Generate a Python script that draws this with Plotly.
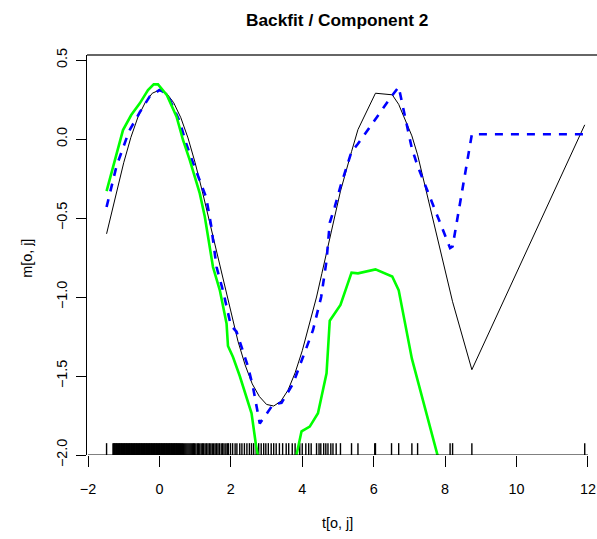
import plotly.graph_objects as go

# ---------------- data ----------------
black_x = [-1.48, -1.2, -1.0, -0.8, -0.6, -0.4, -0.2, 0.0, 0.2, 0.4, 0.6, 0.8, 1.0, 1.2,
           1.4, 1.6, 1.8, 2.0, 2.2, 2.4, 2.6, 2.8, 3.0, 3.2, 3.4, 3.6, 3.8, 4.0, 4.25,
           4.4, 4.55, 4.7, 4.85, 5.07, 5.38, 5.56, 6.05, 6.52, 6.70, 7.07, 7.23, 8.14,
           8.21, 8.75, 11.91]
black_y = [-0.60, -0.33, -0.15, 0.01, 0.14, 0.23, 0.29, 0.31, 0.29, 0.23, 0.135, 0.007,
           -0.15, -0.33, -0.52, -0.72, -0.92, -1.11, -1.28, -1.43, -1.55, -1.63, -1.68,
           -1.69, -1.66, -1.59, -1.48, -1.34, -1.13, -1.00, -0.85, -0.70, -0.55, -0.33,
           -0.08, 0.06, 0.29, 0.28, 0.22, 0.02, -0.10, -0.98, -1.03, -1.46, 0.09]

blue_x = [-1.48, -1.2, -0.85, -0.55, -0.27, 0.0, 0.1, 0.29, 0.57, 0.75, 0.94, 1.13, 1.31,
          1.45, 1.6, 1.78, 2.0, 2.16, 2.34, 2.48, 2.62, 2.81, 3.0, 3.18, 3.42, 3.74, 4.02,
          4.30, 4.53, 4.68, 4.77, 4.91, 5.07, 5.38, 5.56, 6.05, 6.50, 6.70, 7.07, 7.23,
          8.14, 8.21, 8.75, 11.91]
blue_y = [-0.43, -0.17, 0.05, 0.17, 0.27, 0.31, 0.30, 0.25, 0.11, -0.03, -0.15, -0.26,
          -0.37, -0.55, -0.81, -0.96, -1.18, -1.22, -1.34, -1.44, -1.57, -1.80, -1.74,
          -1.68, -1.67, -1.55, -1.38, -1.21, -1.00, -0.77, -0.53, -0.43, -0.30, -0.08,
          -0.03, 0.13, 0.27, 0.33, -0.06, -0.17, -0.69, -0.68, 0.03, 0.03]

green_x = [-1.48, -1.30, -1.02, -0.79, -0.55, -0.32, -0.16, -0.04, 0.21, 0.48, 0.66,
           0.85, 1.13, 1.27, 1.40, 1.50, 1.69, 1.88, 1.92, 2.06, 2.25, 2.44, 2.58, 2.70,
           2.85, 3.10, 3.40, 3.65, 3.84, 3.98, 4.21, 4.44, 4.68, 4.77, 5.07, 5.38, 5.56,
           6.05, 6.52, 6.70, 7.07, 7.23, 8.14, 8.21]
green_y = [-0.33, -0.175, 0.057, 0.152, 0.226, 0.31, 0.346, 0.346, 0.278, 0.141, -0.006,
           -0.133, -0.344, -0.49, -0.66, -0.81, -0.956, -1.167, -1.31, -1.38, -1.50,
           -1.63, -1.736, -1.93, -2.12, -2.30, -2.35, -2.20, -2.0, -1.85, -1.82, -1.736,
           -1.483, -1.15, -1.05, -0.846, -0.85, -0.825, -0.87, -0.956, -1.39, -1.53,
           -2.30, -2.36]

rug_x = [-1.48,
         -1.30, -1.28, -1.26, -1.24, -1.22, -1.20, -1.18, -1.16, -1.14, -1.12, -1.10,
         -1.08, -1.06, -1.04, -1.02, -1.00, -0.98, -0.96, -0.94, -0.92, -0.90, -0.88,
         -0.86, -0.84, -0.82, -0.80, -0.78, -0.76, -0.74, -0.72, -0.70, -0.68, -0.66,
         -0.64, -0.62, -0.60, -0.58, -0.56, -0.54, -0.52, -0.50, -0.48, -0.46, -0.44,
         -0.42, -0.40, -0.38, -0.36, -0.34, -0.32, -0.30, -0.28, -0.26, -0.24, -0.22,
         -0.20, -0.18, -0.16, -0.14, -0.12, -0.10, -0.08, -0.06, -0.04, -0.02, 0.00,
         0.02, 0.04, 0.06, 0.08, 0.10, 0.12, 0.14, 0.16, 0.18, 0.20, 0.22, 0.24, 0.26,
         0.28, 0.30, 0.32, 0.34, 0.36, 0.38, 0.40, 0.42, 0.44, 0.46, 0.48, 0.50, 0.52,
         0.54, 0.56,
         0.59, 0.62, 0.65, 0.68, 0.71, 0.74, 0.77, 0.80, 0.83, 0.86, 0.89, 0.92, 0.95,
         0.98, 1.02, 1.06, 1.09, 1.13, 1.17, 1.21, 1.24, 1.28, 1.32, 1.36, 1.40, 1.44,
         1.48, 1.52, 1.56, 1.60, 1.64, 1.68, 1.73, 1.77, 1.81, 1.86, 1.90,
         1.93, 1.99, 2.05, 2.12, 2.17, 2.25, 2.31, 2.38, 2.45, 2.52, 2.58, 2.64, 2.71,
         2.78, 2.85, 2.92, 2.98, 3.05, 3.13, 3.20, 3.27, 3.36, 3.45, 3.55, 3.62, 3.72,
         3.80, 3.93, 4.00, 4.10, 4.18, 4.25,
         4.40, 4.47, 4.52, 4.60, 4.66, 4.72, 4.80, 4.86, 4.95, 5.07, 5.38, 5.56, 6.03,
         6.05, 6.50, 6.70, 7.07, 7.23, 8.14, 8.21, 8.75, 11.91]

x_ticks = [-2, 0, 2, 4, 6, 8, 10, 12]
x_tick_labels = ["\u22122", "0", "2", "4", "6", "8", "10", "12"]
y_ticks = [-2.0, -1.5, -1.0, -0.5, 0.0, 0.5]
y_tick_labels = ["\u22122.0", "\u22121.5", "\u22121.0", "\u22120.5", "0.0", "0.5"]

title_text = "Backfit / Component 2"
x_title = "t[o, j]"
y_title = "m[o, j]"

# ---------------- figure ----------------
FONT = "Liberation Sans, Arial, Helvetica, sans-serif"
Y_LO, Y_HI = -2.0, 0.532
X_LO, X_HI = -2.028, 12.254
rug_len = 0.075

rx, ry = [], []
for v in rug_x:
    rx += [v, v, None]
    ry += [Y_LO, Y_LO + rug_len, None]

fig = go.Figure()
fig.add_trace(go.Scatter(x=rx, y=ry, mode="lines",
                         line=dict(color="black", width=1.4, simplify=False),
                         hoverinfo="skip"))
fig.add_trace(go.Scatter(x=black_x, y=black_y, mode="lines",
                         line=dict(color="black", width=1)))
fig.add_trace(go.Scatter(x=blue_x, y=blue_y, mode="lines",
                         line=dict(color="#0000ff", width=2.6, dash="8px,8px")))
fig.add_trace(go.Scatter(x=green_x, y=green_y, mode="lines",
                         line=dict(color="#00ff00", width=2.6)))

fig.update_layout(
    width=597, height=539,
    margin=dict(l=87, r=0, t=55, b=84),
    paper_bgcolor="white", plot_bgcolor="white",
    showlegend=False,
    font=dict(family=FONT, size=14.4, color="black"),
    xaxis=dict(range=[X_LO, X_HI], tickvals=x_ticks, ticktext=x_tick_labels,
               ticks="outside", ticklen=11, tickwidth=1, tickcolor="black",
               showgrid=False, zeroline=False, showline=False,
               ticklabelstandoff=10, tickfont=dict(size=14.4)),
    yaxis=dict(range=[Y_LO, Y_HI], tickvals=y_ticks, ticktext=y_tick_labels,
               ticks="outside", ticklen=10, tickwidth=1, tickcolor="black",
               showgrid=False, zeroline=False, showline=True, linecolor="black",
               linewidth=1, tickangle=-90, ticklabelstandoff=3,
               tickfont=dict(size=14.4)),
)

# axis line along the bottom (from first to last tick) and grey top frame line
fig.add_shape(type="line", xref="x", yref="y", x0=x_ticks[0], x1=x_ticks[-1],
              y0=Y_LO, y1=Y_LO, line=dict(color="black", width=1))
fig.add_shape(type="line", xref="paper", yref="paper", x0=0, x1=1, y0=1, y1=1,
              line=dict(color="#666666", width=2))

fig.add_annotation(text="<b>" + title_text + "</b>", xref="paper", yref="paper",
                   x=0.49, y=1.0875, showarrow=False, xanchor="center",
                   yanchor="middle", font=dict(size=17.3, family=FONT))
fig.add_annotation(text=x_title, xref="paper", yref="paper", x=0.492, y=-0.170,
                   showarrow=False, xanchor="center", yanchor="middle",
                   font=dict(size=14.4, family=FONT))
fig.add_annotation(text=y_title, xref="paper", yref="paper", x=-0.118, y=0.4925,
                   showarrow=False, xanchor="center", yanchor="middle",
                   textangle=-90, font=dict(size=14.4, family=FONT))

fig.write_html("out.html")
